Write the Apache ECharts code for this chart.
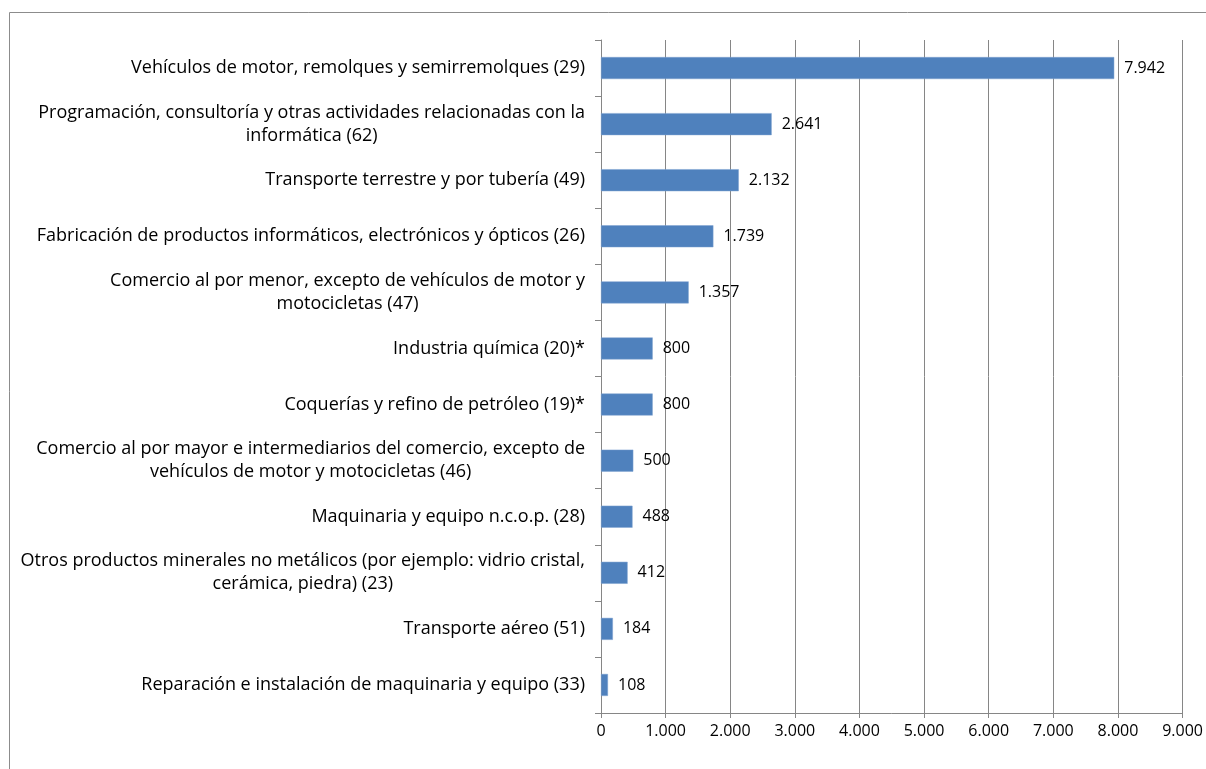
<!DOCTYPE html>
<html>
<head>
<meta charset="utf-8">
<script src="https://cdn.jsdelivr.net/npm/echarts@6/dist/echarts.min.js"></script>
<style>
html, body { margin: 0; padding: 0; background: #fff; }
#main { width: 1206px; height: 769px; }
</style>
</head>
<body>
<div id="main"></div>
<script>
// sectores (de arriba abajo)
var sectores = [
	'Vehículos de motor, remolques y semirremolques (29)',
	'Programación, consultoría y otras actividades relacionadas con la\ninformática (62)',
	'Transporte terrestre y por tubería (49)',
	'Fabricación de productos informáticos, electrónicos y ópticos (26)',
	'Comercio al por menor, excepto de vehículos de motor y\nmotocicletas (47)',
	'Industria química (20)*',
	'Coquerías y refino de petróleo (19)*',
	'Comercio al por mayor e intermediarios del comercio, excepto de\nvehículos de motor y motocicletas (46)',
	'Maquinaria y equipo n.c.o.p. (28)',
	'Otros productos minerales no metálicos (por ejemplo: vidrio cristal,\ncerámica, piedra) (23)',
	'Transporte aéreo (51)',
	'Reparación e instalación de maquinaria y equipo (33)'
];
var valores = [7942, 2641, 2132, 1739, 1357, 800, 800, 500, 488, 412, 184, 108];
var ejeMin = 0, ejeMax = 9000, ejePaso = 1000;

function miles(v) {
	return String(v).replace(/\B(?=(\d{3})+(?!\d))/g, '.');
}

var myChart = echarts.init(document.getElementById('main'));
var fuente = 'Open Sans';

var option = {
	animation: false,
	textStyle: { fontFamily: fuente },
	graphic: [{
		type: 'rect',
		silent: true,
		shape: { x: 9.5, y: 12.5, width: 1400, height: 900 },
		style: { fill: 'none', stroke: '#8c8c8c', lineWidth: 1 }
	}],
	grid: { left: 601, top: 40, right: 21, bottom: 56, containLabel: false },
	xAxis: {
		type: 'value',
		min: ejeMin,
		max: ejeMax,
		interval: ejePaso,
		axisLine: { show: true, lineStyle: { color: '#868686' } },
		axisTick: { show: true, length: 5, lineStyle: { color: '#868686' } },
		splitLine: { show: true, lineStyle: { color: '#868686' } },
		axisLabel: {
			color: '#000', fontSize: 16, margin: 10, fontFamily: fuente,
			formatter: function (v) { return miles(v); }
		}
	},
	yAxis: {
		type: 'category',
		inverse: true,
		data: sectores,
		axisLine: { show: true, lineStyle: { color: '#868686' } },
		axisTick: { show: true, length: 6, lineStyle: { color: '#868686' } },
		axisLabel: {
			color: '#000', fontSize: 18, lineHeight: 23, margin: 16, align: 'right',
			fontFamily: fuente,
			// cada línea centrada dentro del bloque
			formatter: function (v) {
				return v.split('\n').map(function (s) { return '{c|' + s + '}'; }).join('\n');
			},
			rich: {
				c: { align: 'center', color: '#000', fontSize: 18, lineHeight: 23, fontFamily: fuente }
			}
		}
	},
	series: [{
		type: 'bar',
		data: valores,
		barWidth: 22,
		itemStyle: { color: '#4f81bd', borderColor: '#7ea3d0', borderWidth: 0.5 },
		label: {
			show: true,
			position: 'right',
			distance: 10,
			color: '#000',
			fontSize: 16,
			fontFamily: fuente,
			formatter: function (p) { return miles(p.value); }
		}
	}]
};

myChart.setOption(option);
</script>
</body>
</html>
